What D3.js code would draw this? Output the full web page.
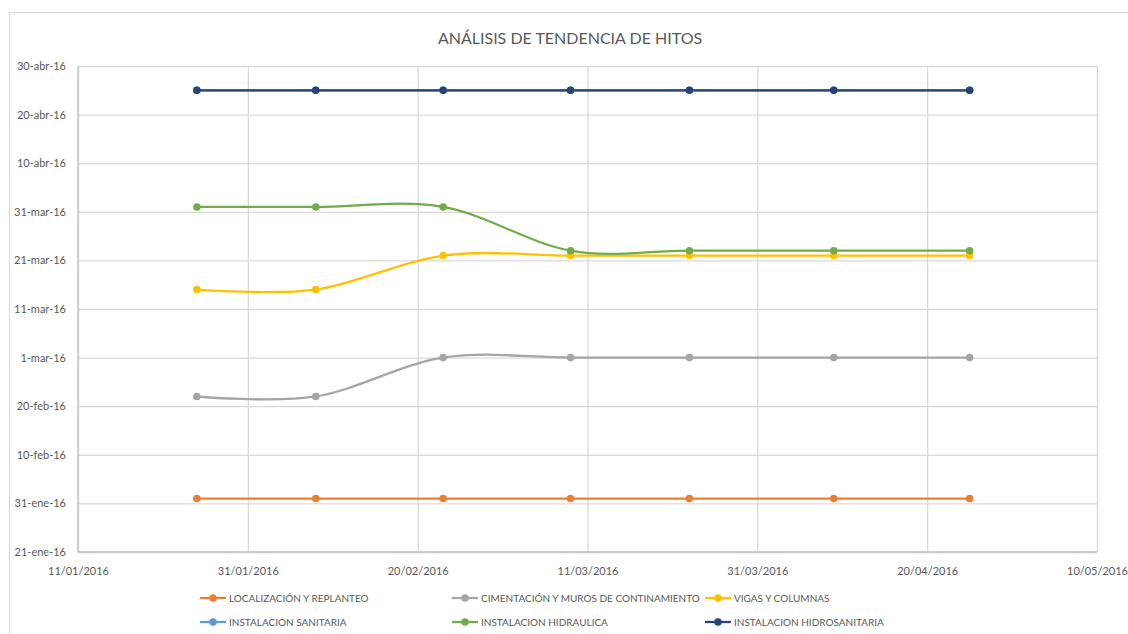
<!DOCTYPE html>
<html>
<head>
<meta charset="utf-8">
<script src="https://cdn.jsdelivr.net/npm/d3@7"></script>
<style>
  html, body { margin: 0; padding: 0; background: #ffffff; }
  svg { display: block; font-family: Lato, "Open Sans", sans-serif; }
</style>
</head>
<body>
<svg id="chart" width="1128" height="634"></svg>
<script>
// ---------- DATA ----------
const chartTitle = "ANÁLISIS DE TENDENCIA DE HITOS";
// report dates (x)
const reportDates = ["2016-01-25", "2016-02-08", "2016-02-23", "2016-03-09", "2016-03-23", "2016-04-09", "2016-04-25"];

const seriesNames = [
  "LOCALIZACIÓN Y REPLANTEO",
  "CIMENTACIÓN Y MUROS DE CONTINAMIENTO",
  "VIGAS Y COLUMNAS",
  "INSTALACION SANITARIA",
  "INSTALACION HIDRAULICA",
  "INSTALACION HIDROSANITARIA"
];
const seriesColors = ["#ED7D31", "#A5A5A5", "#FFC000", "#5B9BD5", "#70AD47", "#264478"];

// forecast milestone dates (y)
const localizacion   = ["2016-02-01", "2016-02-01", "2016-02-01", "2016-02-01", "2016-02-01", "2016-02-01", "2016-02-01"];
const cimentacion    = ["2016-02-22", "2016-02-22", "2016-03-01", "2016-03-01", "2016-03-01", "2016-03-01", "2016-03-01"];
const vigas          = ["2016-03-15", "2016-03-15", "2016-03-22", "2016-03-22", "2016-03-22", "2016-03-22", "2016-03-22"];
const sanitaria      = ["2016-04-25", "2016-04-25", "2016-04-25", "2016-04-25", "2016-04-25", "2016-04-25", "2016-04-25"];
const hidraulica     = ["2016-04-01", "2016-04-01", "2016-04-01", "2016-03-23", "2016-03-23", "2016-03-23", "2016-03-23"];
const hidrosanitaria = ["2016-04-25", "2016-04-25", "2016-04-25", "2016-04-25", "2016-04-25", "2016-04-25", "2016-04-25"];
const seriesValues = [localizacion, cimentacion, vigas, sanitaria, hidraulica, hidrosanitaria];

// axis ticks
const xTickDates  = ["2016-01-11", "2016-01-31", "2016-02-20", "2016-03-11", "2016-03-31", "2016-04-20", "2016-05-10"];
const xTickLabels = ["11/01/2016", "31/01/2016", "20/02/2016", "11/03/2016", "31/03/2016", "20/04/2016", "10/05/2016"];
const yTickDates  = ["2016-01-21", "2016-01-31", "2016-02-10", "2016-02-20", "2016-03-01", "2016-03-11", "2016-03-21", "2016-03-31", "2016-04-10", "2016-04-20", "2016-04-30"];
const yTickLabels = ["21-ene-16", "31-ene-16", "10-feb-16", "20-feb-16", "1-mar-16", "11-mar-16", "21-mar-16", "31-mar-16", "10-abr-16", "20-abr-16", "30-abr-16"];

// ---------- CHART ----------
const parse = d3.utcParse("%Y-%m-%d");
const svg = d3.select("#chart");
const W = 1128, H = 634;
const plot = { left: 78, right: 1097, top: 66, bottom: 552 };
const textColor = "#595959";
const gridColor = "#D9D9D9";

// chart area border
svg.append("rect")
  .attr("x", 9.5).attr("y", 12.5)
  .attr("width", W + 10).attr("height", H + 10)
  .attr("fill", "#fff").attr("stroke", gridColor).attr("stroke-width", 1);

const x = d3.scaleUtc()
  .domain([parse(xTickDates[0]), parse(xTickDates[xTickDates.length - 1])])
  .range([plot.left, plot.right]);
const y = d3.scaleUtc()
  .domain([parse(yTickDates[0]), parse(yTickDates[yTickDates.length - 1])])
  .range([plot.bottom, plot.top]);

// title
svg.append("text")
  .attr("x", 570).attr("y", 44)
  .attr("text-anchor", "middle")
  .attr("font-size", 16)
  .attr("fill", textColor)
  .text(chartTitle);

// gridlines
const xAxisGrid = d3.axisBottom(x)
  .tickValues(xTickDates.map(parse))
  .tickSize(-(plot.bottom - plot.top))
  .tickFormat("");
svg.append("g")
  .attr("transform", `translate(0,${plot.bottom})`)
  .call(xAxisGrid)
  .call(g => g.select(".domain").remove())
  .call(g => g.selectAll("line").attr("stroke", gridColor).attr("stroke-width", 1.3));

const yAxisGrid = d3.axisLeft(y)
  .tickValues(yTickDates.map(parse))
  .tickSize(-(plot.right - plot.left))
  .tickFormat("");
svg.append("g")
  .attr("transform", `translate(${plot.left},0)`)
  .call(yAxisGrid)
  .call(g => g.select(".domain").remove())
  .call(g => g.selectAll("line").attr("stroke", gridColor).attr("stroke-width", 1.3));

// axis lines
svg.append("line")
  .attr("x1", plot.left).attr("x2", plot.left)
  .attr("y1", plot.top).attr("y2", plot.bottom)
  .attr("stroke", "#BFBFBF").attr("stroke-width", 1.3);
svg.append("line")
  .attr("x1", plot.left).attr("x2", plot.right)
  .attr("y1", plot.bottom).attr("y2", plot.bottom)
  .attr("stroke", "#BFBFBF").attr("stroke-width", 1.3);

// axis labels
const xAxis = d3.axisBottom(x)
  .tickValues(xTickDates.map(parse))
  .tickSize(0).tickPadding(15)
  .tickFormat((d, i) => xTickLabels[i]);
svg.append("g")
  .attr("transform", `translate(0,${plot.bottom})`)
  .call(xAxis)
  .call(g => g.select(".domain").remove())
  .call(g => g.selectAll("text").attr("fill", textColor).attr("font-size", 11).attr("font-family", "Lato, sans-serif"));

const yAxis = d3.axisLeft(y)
  .tickValues(yTickDates.map(parse))
  .tickSize(0).tickPadding(12)
  .tickFormat((d, i) => yTickLabels[i]);
svg.append("g")
  .attr("transform", `translate(${plot.left},0)`)
  .call(yAxis)
  .call(g => g.select(".domain").remove())
  .call(g => g.selectAll("text").attr("fill", textColor).attr("font-size", 11).attr("font-family", "Lato, sans-serif"));

// series
const line = d3.line()
  .x(d => x(d.x))
  .y(d => y(d.y))
  .curve(d3.curveCatmullRom.alpha(0));

seriesValues.forEach((vals, si) => {
  const pts = vals.map((v, i) => ({ x: parse(reportDates[i]), y: parse(v) }));
  const g = svg.append("g");
  g.append("path")
    .datum(pts)
    .attr("d", line)
    .attr("fill", "none")
    .attr("stroke", seriesColors[si])
    .attr("stroke-width", 2.3)
    .attr("stroke-linejoin", "round");
  g.selectAll("circle")
    .data(pts)
    .join("circle")
    .attr("cx", d => x(d.x))
    .attr("cy", d => y(d.y))
    .attr("r", 3.8)
    .attr("fill", seriesColors[si]);
});

// legend
const legendCols = [200, 452, 705];
const legendRows = [598, 622];
seriesNames.forEach((name, i) => {
  const lx = legendCols[i % 3];
  const ly = legendRows[Math.floor(i / 3)];
  const g = svg.append("g").attr("transform", `translate(${lx},${ly})`);
  g.append("line").attr("x1", 0).attr("x2", 26).attr("y1", 0).attr("y2", 0)
    .attr("stroke", seriesColors[i]).attr("stroke-width", 2.3);
  g.append("circle").attr("cx", 13).attr("cy", 0).attr("r", 3.8).attr("fill", seriesColors[i]);
  g.append("text").attr("x", 29).attr("y", 0).attr("dy", "0.35em")
    .attr("font-size", 10).attr("fill", textColor)
    .text(name);
});
</script>
</body>
</html>
